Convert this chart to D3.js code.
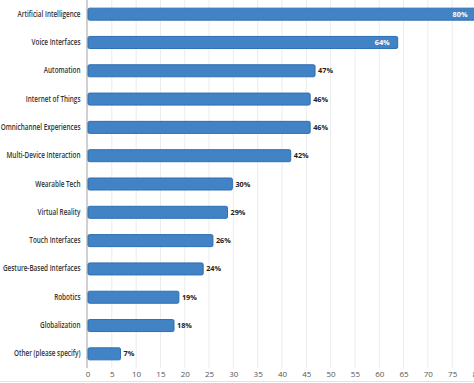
<!DOCTYPE html>
<html><head><meta charset="utf-8">
<script src="https://cdn.jsdelivr.net/npm/d3@7"></script>
<style>
html,body{margin:0;padding:0;background:#fff;overflow:hidden}
svg{display:block;font-family:"Open Sans",sans-serif}
</style></head>
<body>
<svg id="c" width="474" height="383"></svg>
<script>
const categories = ["Artificial Intelligence","Voice Interfaces","Automation","Internet of Things","Omnichannel Experiences","Multi-Device Interaction","Wearable Tech","Virtual Reality","Touch Interfaces","Gesture-Based Interfaces","Robotics","Globalization","Other (please specify)"];
const values = [80,64,47,46,46,42,30,29,26,24,19,18,7];
const tickValues = [0,5,10,15,20,25,30,35,40,45,50,55,60,65,70,75,80];

const svg = d3.select("#c");
const x = d3.scaleLinear().domain([0,80]).range([87.5,476.5]);
const y = d3.scaleBand().domain(categories).range([0,368]).paddingInner(0.54).paddingOuter(0.27);

// gridlines
svg.append("g").selectAll("line").data(tickValues.slice(1)).join("line")
  .attr("x1",d=>x(d)).attr("x2",d=>x(d)).attr("y1",0).attr("y2",368)
  .attr("stroke","#ebebeb").attr("stroke-width",1);

// x axis labels
const xa = svg.append("g").attr("transform","translate(0,368)")
  .call(d3.axisBottom(x).tickValues(tickValues).tickSize(0).tickPadding(3));
xa.select(".domain").remove();
xa.selectAll("text").attr("font-family","Open Sans").attr("font-size",8).attr("fill","#555");

// bottom line
svg.append("line").attr("x1",0).attr("x2",474).attr("y1",381.5).attr("y2",381.5).attr("stroke","#e3e3e3");

// y axis
const ya = svg.append("g").attr("transform","translate(87.5,0)")
  .call(d3.axisLeft(y).tickSize(0).tickPadding(7));
ya.select(".domain").remove();
const yt = ya.selectAll("text").attr("font-family","Open Sans").attr("font-size",8).attr("font-weight",600).attr("fill","#333");
let maxW = 0;
yt.each(function(){ maxW = Math.max(maxW, this.getComputedTextLength()); });
const sx = Math.min(1, 80/maxW);
yt.attr("x", -7/sx).attr("transform", `scale(${sx},1)`);
svg.append("line").attr("x1",87).attr("x2",87).attr("y1",0).attr("y2",368).attr("stroke","#d0d0d0").attr("stroke-width",2);

// bars
const rows = categories.map((c,i)=>({c,v:values[i]}));
svg.append("g").selectAll("rect").data(rows).join("rect")
  .attr("x",x(0)+0.5).attr("y",d=>y(d.c)+0.5)
  .attr("width",d=>x(d.v)-x(0)-1.5).attr("height",y.bandwidth()-1)
  .attr("rx",1.5)
  .attr("fill","#4183c4").attr("stroke","#2e6fb3").attr("stroke-width",1);

// labels
svg.append("g").selectAll("text").data(rows).join("text")
  .attr("x",d=> d.v>=60 ? x(d.v)-9 : x(d.v)+2)
  .attr("y",d=>y(d.c)+y.bandwidth()/2)
  .attr("dy","0.35em")
  .attr("text-anchor",d=>d.v>=60?"end":"start")
  .attr("font-family","Open Sans").attr("font-weight","bold").attr("font-size",7.3)
  .attr("fill",d=>d.v>=60?"#fff":"#222")
  .text(d=>d.v+"%");
</script>
</body></html>
